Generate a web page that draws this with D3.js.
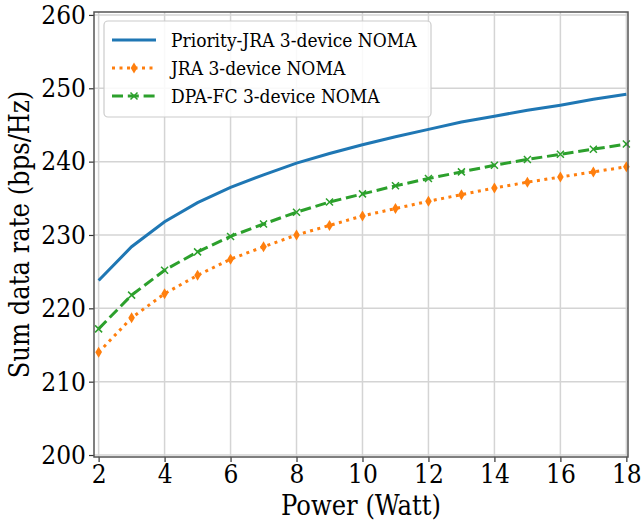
<!DOCTYPE html>
<html>
<head>
<meta charset="utf-8">
<script src="https://cdn.jsdelivr.net/npm/d3@7"></script>
<style>
  body { margin: 0; background: #fff; }
  svg text { font-family: "DejaVu Serif Condensed", "DejaVu Serif", serif; font-stretch: condensed; fill: #000; }
</style>
</head>
<body>
<div id="container"></div>
<script>
/* DATA */
const power = [2, 3, 4, 5, 6, 7, 8, 9, 10, 11, 12, 13, 14, 15, 16, 17, 18];
const priorityJRA = [223.8, 228.4, 231.8, 234.4, 236.5, 238.2, 239.8, 241.1, 242.3, 243.4, 244.4, 245.4, 246.2, 247.0, 247.7, 248.5, 249.2];
const jra = [214.0, 218.7, 222.0, 224.5, 226.7, 228.4, 230.0, 231.3, 232.6, 233.6, 234.6, 235.5, 236.4, 237.2, 237.9, 238.6, 239.3];
const dpaFC = [217.2, 221.8, 225.2, 227.7, 229.8, 231.5, 233.1, 234.5, 235.6, 236.7, 237.7, 238.6, 239.5, 240.3, 241.0, 241.7, 242.4];
const xTicks = [2, 4, 6, 8, 10, 12, 14, 16, 18];
const yTicks = [200, 210, 220, 230, 240, 250, 260];
const seriesNames = ["Priority-JRA 3-device NOMA", "JRA 3-device NOMA", "DPA-FC 3-device NOMA"];

/* CONSTANTS */
const W = 643, H = 526;
const margin = { top: 12, right: 15, bottom: 69, left: 94 };
const innerRight = W - margin.right;
const innerBottom = H - margin.bottom;
const serif = '"DejaVu Serif Condensed", "DejaVu Serif", serif';

const svg = d3.select("#container")
  .append("svg")
  .attr("width", W)
  .attr("height", H);

/* SCALES */
const xScale = d3.scaleLinear()
  .domain([1.86, 18.05])
  .range([margin.left, innerRight]);

const yScale = d3.scaleLinear()
  .domain([199.73, 260.4])
  .range([innerBottom, margin.top]);

// grid
svg.append("g")
  .selectAll("line")
  .data(xTicks)
  .join("line")
  .attr("x1", d => xScale(d)).attr("x2", d => xScale(d))
  .attr("y1", margin.top).attr("y2", innerBottom)
  .attr("stroke", "#d4d4d4").attr("stroke-width", 1.5);

svg.append("g")
  .selectAll("line")
  .data(yTicks)
  .join("line")
  .attr("y1", d => yScale(d)).attr("y2", d => yScale(d))
  .attr("x1", margin.left).attr("x2", innerRight)
  .attr("stroke", "#d4d4d4").attr("stroke-width", 1.5);

/* SERIES */
const line = d3.line()
  .x((d, i) => xScale(power[i]))
  .y(d => yScale(d));

svg.append("path")
  .datum(priorityJRA)
  .attr("d", line)
  .attr("fill", "none")
  .attr("stroke", "#1f77b4")
  .attr("stroke-width", 3);

svg.append("path")
  .datum(jra)
  .attr("d", line)
  .attr("fill", "none")
  .attr("stroke", "#ff7f0e")
  .attr("stroke-width", 3)
  .attr("stroke-dasharray", "3,4.5");

svg.append("path")
  .datum(dpaFC)
  .attr("d", line)
  .attr("fill", "none")
  .attr("stroke", "#2ca02c")
  .attr("stroke-width", 3)
  .attr("stroke-dasharray", "11,4.8");

// markers
const diamond = "M0,-5.5L3.3,0L0,5.5L-3.3,0Z";
const cross = "M-3.5,-3.5L3.5,3.5M-3.5,3.5L3.5,-3.5";

svg.append("g")
  .selectAll("path")
  .data(jra)
  .join("path")
  .attr("transform", (d, i) => `translate(${xScale(power[i])},${yScale(d)})`)
  .attr("d", diamond)
  .attr("fill", "#ff7f0e");

svg.append("g")
  .selectAll("path")
  .data(dpaFC)
  .join("path")
  .attr("transform", (d, i) => `translate(${xScale(power[i])},${yScale(d)})`)
  .attr("d", cross)
  .attr("fill", "none")
  .attr("stroke", "#2ca02c")
  .attr("stroke-width", 1.5);

/* AXES */
const xAxis = svg.append("g")
  .attr("transform", `translate(0,${innerBottom})`)
  .call(d3.axisBottom(xScale).tickValues(xTicks).tickSize(5).tickPadding(3));

const yAxis = svg.append("g")
  .attr("transform", `translate(${margin.left},0)`)
  .call(d3.axisLeft(yScale).tickValues(yTicks).tickSize(5).tickPadding(3));

[xAxis, yAxis].forEach(ax => {
  ax.attr("font-family", serif).attr("font-size", 26);
  ax.select(".domain").remove();
  ax.selectAll("line").attr("stroke", "#333").attr("stroke-width", 1.2);
  ax.selectAll("text").attr("fill", "#000");
});

// frame
svg.append("rect")
  .attr("x", margin.left).attr("y", margin.top)
  .attr("width", innerRight - margin.left)
  .attr("height", innerBottom - margin.top)
  .attr("fill", "none")
  .attr("stroke", "#555")
  .attr("stroke-width", 1.5);

// axis labels
svg.append("text")
  .attr("x", (margin.left + innerRight) / 2)
  .attr("y", 515)
  .attr("text-anchor", "middle")
  .attr("font-size", 27)
  .text("Power (Watt)");

svg.append("text")
  .attr("transform", `translate(29,${(margin.top + innerBottom) / 2}) rotate(-90)`)
  .attr("text-anchor", "middle")
  .attr("font-size", 27)
  .text("Sum data rate (bps/Hz)");

/* LEGEND */
const legend = svg.append("g");
legend.append("rect")
  .attr("x", 104).attr("y", 21)
  .attr("width", 327).attr("height", 96)
  .attr("rx", 4)
  .attr("fill", "#fff").attr("fill-opacity", 0.85)
  .attr("stroke", "#cccccc").attr("stroke-width", 1.2);

const legendRows = [
  { name: seriesNames[0], color: "#1f77b4", dash: null, marker: null, y: 40 },
  { name: seriesNames[1], color: "#ff7f0e", dash: "3,4.5", marker: "diamond", y: 68 },
  { name: seriesNames[2], color: "#2ca02c", dash: "11,4.8", marker: "cross", y: 96 }
];

legendRows.forEach(r => {
  legend.append("line")
    .attr("x1", 112).attr("x2", 156)
    .attr("y1", r.y).attr("y2", r.y)
    .attr("stroke", r.color).attr("stroke-width", 3)
    .attr("stroke-dasharray", r.dash);
  if (r.marker === "diamond") {
    legend.append("path")
      .attr("transform", `translate(134,${r.y})`)
      .attr("d", diamond).attr("fill", r.color);
  } else if (r.marker === "cross") {
    legend.append("path")
      .attr("transform", `translate(134,${r.y})`)
      .attr("d", cross).attr("fill", "none")
      .attr("stroke", r.color).attr("stroke-width", 1.5);
  }
  legend.append("text")
    .attr("x", 171).attr("y", r.y + 7)
    .attr("font-size", 19)
    .text(r.name);
});
</script>
</body>
</html>
